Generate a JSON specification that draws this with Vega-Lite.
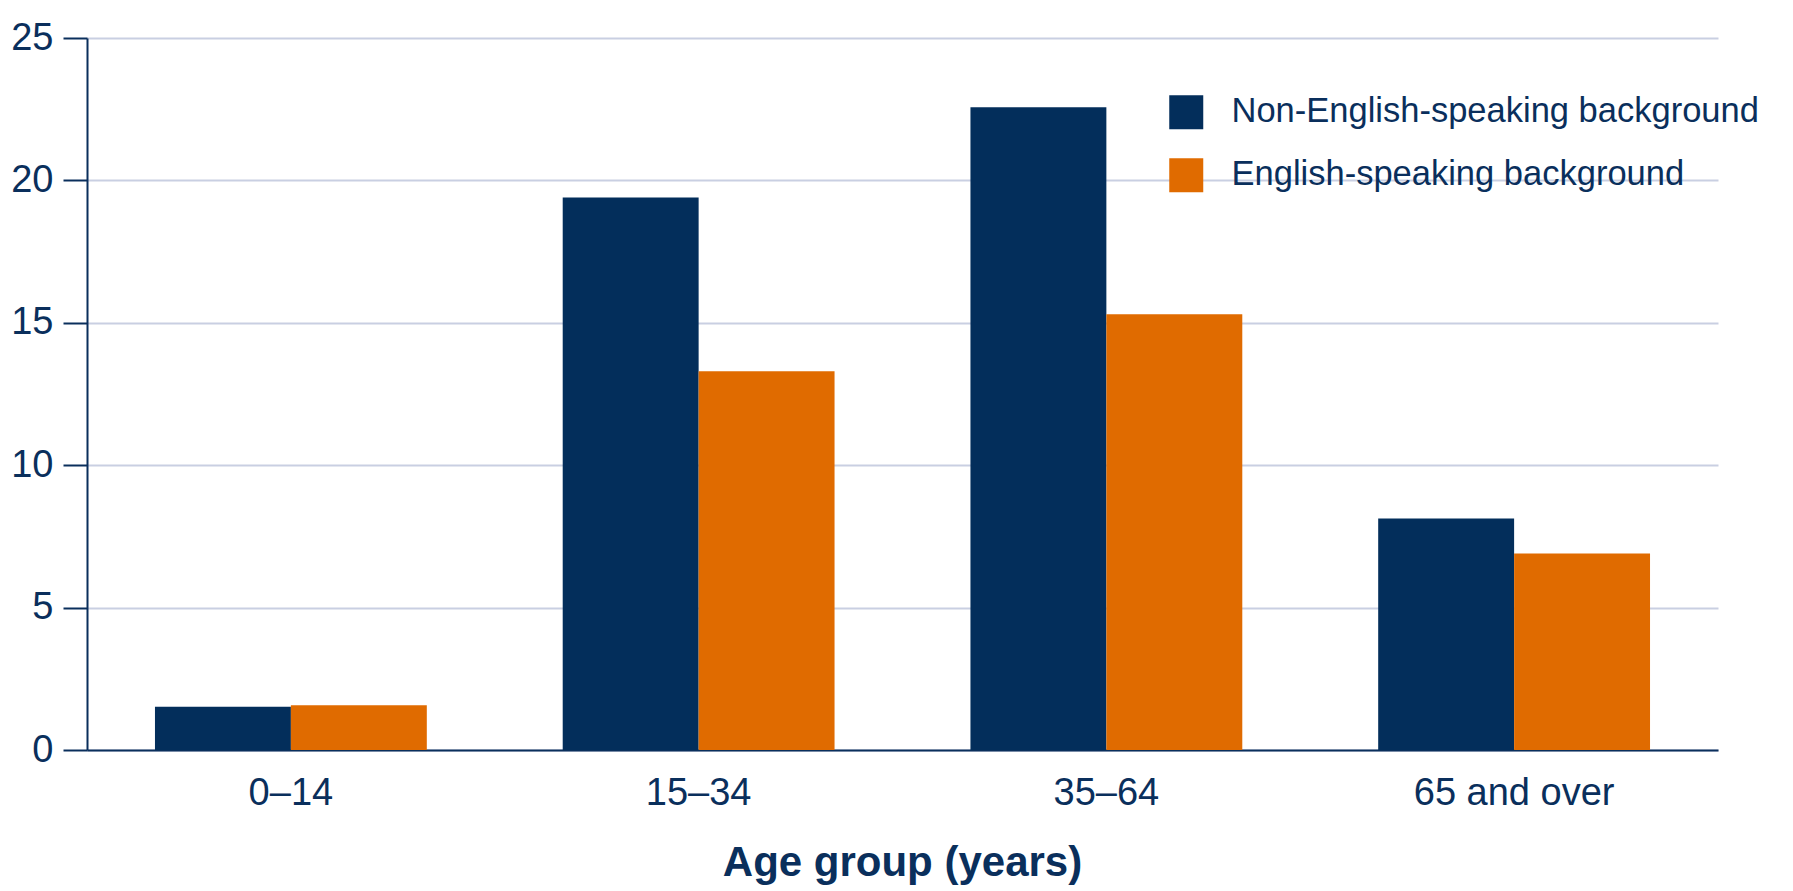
{
  "$schema": "https://vega.github.io/schema/vega-lite/v6.json",
  "width": 1631,
  "height": 712,
  "autosize": {"type": "none"},
  "padding": {"left": 87, "top": 38, "right": 75, "bottom": 141},
  "background": "white",
  "data": {
    "values": [
      {"age": "0–14", "group": "Non-English-speaking background", "value": 1.52},
      {"age": "0–14", "group": "English-speaking background", "value": 1.57},
      {"age": "15–34", "group": "Non-English-speaking background", "value": 19.4},
      {"age": "15–34", "group": "English-speaking background", "value": 13.3},
      {"age": "35–64", "group": "Non-English-speaking background", "value": 22.57},
      {"age": "35–64", "group": "English-speaking background", "value": 15.3},
      {"age": "65 and over", "group": "Non-English-speaking background", "value": 8.13},
      {"age": "65 and over", "group": "English-speaking background", "value": 6.9}
    ]
  },
  "mark": {"type": "bar"},
  "encoding": {
    "x": {
      "field": "age",
      "type": "nominal",
      "sort": ["0–14", "15–34", "35–64", "65 and over"],
      "scale": {"paddingInner": 0.3333, "paddingOuter": 0.1667},
      "axis": {
        "title": "Age group (years)",
        "labelAngle": 0,
        "ticks": false,
        "labelPadding": 24,
        "labelFontSize": 38,
        "labelLimit": 500,
        "labelBaseline": "top",
        "titleFontSize": 42,
        "titleFontWeight": "bold",
        "titleX": 815,
        "titleY": 125,
        "titleAnchor": null,
        "titleAlign": "center",
        "titleBaseline": "alphabetic",
        "grid": false
      }
    },
    "xOffset": {
      "field": "group",
      "type": "nominal",
      "sort": ["Non-English-speaking background", "English-speaking background"],
      "scale": {"paddingInner": 0, "paddingOuter": 0}
    },
    "y": {
      "field": "value",
      "type": "quantitative",
      "scale": {"domain": [0, 25], "nice": false},
      "axis": {
        "title": null,
        "values": [0, 5, 10, 15, 20, 25],
        "tickSize": 24,
        "tickWidth": 2,
        "labelPadding": 10,
        "labelFontSize": 38,
        "grid": true,
        "gridColor": "#c9cfe2",
        "gridWidth": 2
      }
    },
    "color": {
      "field": "group",
      "type": "nominal",
      "sort": ["Non-English-speaking background", "English-speaking background"],
      "scale": {
        "domain": ["Non-English-speaking background", "English-speaking background"],
        "range": ["#032e5b", "#e06b00"]
      },
      "legend": {
        "title": null,
        "orient": "none",
        "legendX": 1082,
        "legendY": 57,
        "padding": 0,
        "symbolType": "square",
        "symbolSize": 1156,
        "symbolStrokeWidth": 0,
        "labelFontSize": 34.5,
        "labelOffset": 28,
        "rowPadding": 27,
        "labelLimit": 800
      }
    }
  },
  "config": {
    "font": "Liberation Sans",
    "view": {"stroke": null},
    "axis": {
      "domainColor": "#0a2f5c",
      "domainWidth": 2,
      "tickColor": "#0a2f5c",
      "labelColor": "#0a2f5c",
      "titleColor": "#0a2f5c",
      "labelFont": "Liberation Sans",
      "titleFont": "Liberation Sans"
    },
    "legend": {
      "labelColor": "#0a2f5c",
      "labelFont": "Liberation Sans"
    }
  }
}
